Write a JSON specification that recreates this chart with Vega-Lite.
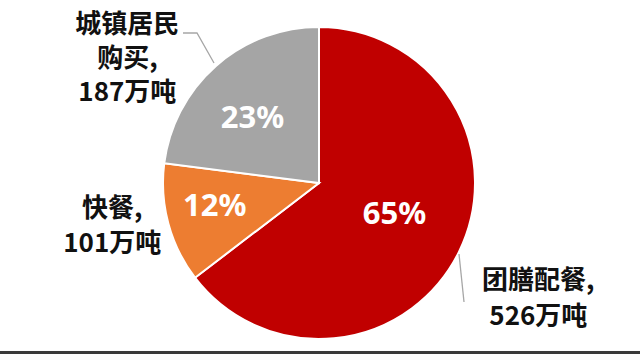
{
  "$schema": "https://vega.github.io/schema/vega-lite/v6.json",
  "width": 640,
  "height": 354,
  "autosize": {"type": "none"},
  "padding": 0,
  "background": "white",
  "config": {"view": {"stroke": null}},
  "layer": [
    {
      "data": {"values": [
        {"name": "团膳配餐", "value": 526, "pct": "65%", "order": 1, "label": "团膳配餐,\n526万吨"},
        {"name": "快餐", "value": 101, "pct": "12%", "order": 2, "label": "快餐,\n101万吨"},
        {"name": "城镇居民购买", "value": 187, "pct": "23%", "order": 3, "label": "城镇居民\n购买,\n187万吨"}
      ]},
      "encoding": {
        "x": {"datum": 0, "type": "quantitative", "scale": {"domain": [-319, 321], "nice": false, "zero": false}, "axis": null},
        "y": {"datum": 0, "type": "quantitative", "scale": {"domain": [-183, 171], "nice": false, "zero": false, "reverse": true}, "axis": null},
        "theta": {"field": "value", "type": "quantitative", "stack": true},
        "order": {"field": "order", "type": "quantitative"}
      },
      "layer": [
        {
          "mark": {"type": "arc", "outerRadius": 156, "stroke": "white", "strokeWidth": 2},
          "encoding": {
            "color": {"field": "name", "type": "nominal", "legend": null,
              "scale": {"domain": ["团膳配餐", "快餐", "城镇居民购买"], "range": ["#C00000", "#ED7D31", "#A5A5A5"]}}
          }
        },
        {
          "mark": {"type": "text", "radius": 82, "dx": 2, "dy": -4, "font": "Noto Sans", "fontWeight": "bold", "fontSize": 31, "fill": "white", "align": "center", "baseline": "middle"},
          "encoding": {"detail": {"field": "name"}, "text": {"condition": {"test": "datum.order === 1", "field": "pct"}, "value": ""}}
        },
        {
          "mark": {"type": "text", "radius": 107, "dx": -1, "dy": -4, "font": "Noto Sans", "fontWeight": "bold", "fontSize": 31, "fill": "white", "align": "center", "baseline": "middle"},
          "encoding": {"detail": {"field": "name"}, "text": {"condition": {"test": "datum.order === 2", "field": "pct"}, "value": ""}}
        },
        {
          "mark": {"type": "text", "radius": 93, "dx": -5, "dy": 6, "font": "Noto Sans", "fontWeight": "bold", "fontSize": 31, "fill": "white", "align": "center", "baseline": "middle"},
          "encoding": {"detail": {"field": "name"}, "text": {"condition": {"test": "datum.order === 3", "field": "pct"}, "value": ""}}
        },
        {
          "mark": {"type": "text", "radius": 248, "dx": -3, "dy": -12, "font": "Noto Sans CJK SC", "fontWeight": "bold", "fontSize": 26, "lineHeight": 36, "lineBreak": "\n", "fill": "#111111", "align": "center", "baseline": "middle"},
          "encoding": {"detail": {"field": "name"}, "text": {"condition": {"test": "datum.order === 1", "field": "label"}, "value": ""}}
        },
        {
          "mark": {"type": "text", "radius": 212, "dx": -2, "dy": -29, "font": "Noto Sans CJK SC", "fontWeight": "bold", "fontSize": 26, "lineHeight": 35, "lineBreak": "\n", "fill": "#111111", "align": "center", "baseline": "middle"},
          "encoding": {"detail": {"field": "name"}, "text": {"condition": {"test": "datum.order === 2", "field": "label"}, "value": ""}}
        },
        {
          "mark": {"type": "text", "radius": 228, "dx": -41, "dy": 13, "font": "Noto Sans CJK SC", "fontWeight": "bold", "fontSize": 26, "lineHeight": 34, "lineBreak": "\n", "fill": "#111111", "align": "center", "baseline": "middle"},
          "encoding": {"detail": {"field": "name"}, "text": {"condition": {"test": "datum.order === 3", "field": "label"}, "value": ""}}
        }
      ]
    },
    {
      "data": {"values": [
        {"seg": "g", "i": 1, "px": -136, "py": -150},
        {"seg": "g", "i": 2, "px": -122, "py": -150},
        {"seg": "g", "i": 3, "px": -105, "py": -120},
        {"seg": "r", "i": 1, "px": 140, "py": 71},
        {"seg": "r", "i": 2, "px": 145, "py": 119}
      ]},
      "mark": {"type": "line", "stroke": "#A6A6A6", "strokeWidth": 1.3},
      "encoding": {
        "x": {"field": "px", "type": "quantitative", "scale": {"domain": [-319, 321], "nice": false, "zero": false}, "axis": null},
        "y": {"field": "py", "type": "quantitative", "scale": {"domain": [-183, 171], "nice": false, "zero": false, "reverse": true}, "axis": null},
        "detail": {"field": "seg", "type": "nominal"},
        "order": {"field": "i", "type": "quantitative"}
      }
    },
    {
      "data": {"values": [{}]},
      "mark": {"type": "rule", "color": "#3a3a3a", "strokeWidth": 3},
      "encoding": {
        "y": {"datum": 169.5, "type": "quantitative", "scale": {"domain": [-183, 171], "nice": false, "zero": false, "reverse": true}, "axis": null}
      }
    }
  ]
}
